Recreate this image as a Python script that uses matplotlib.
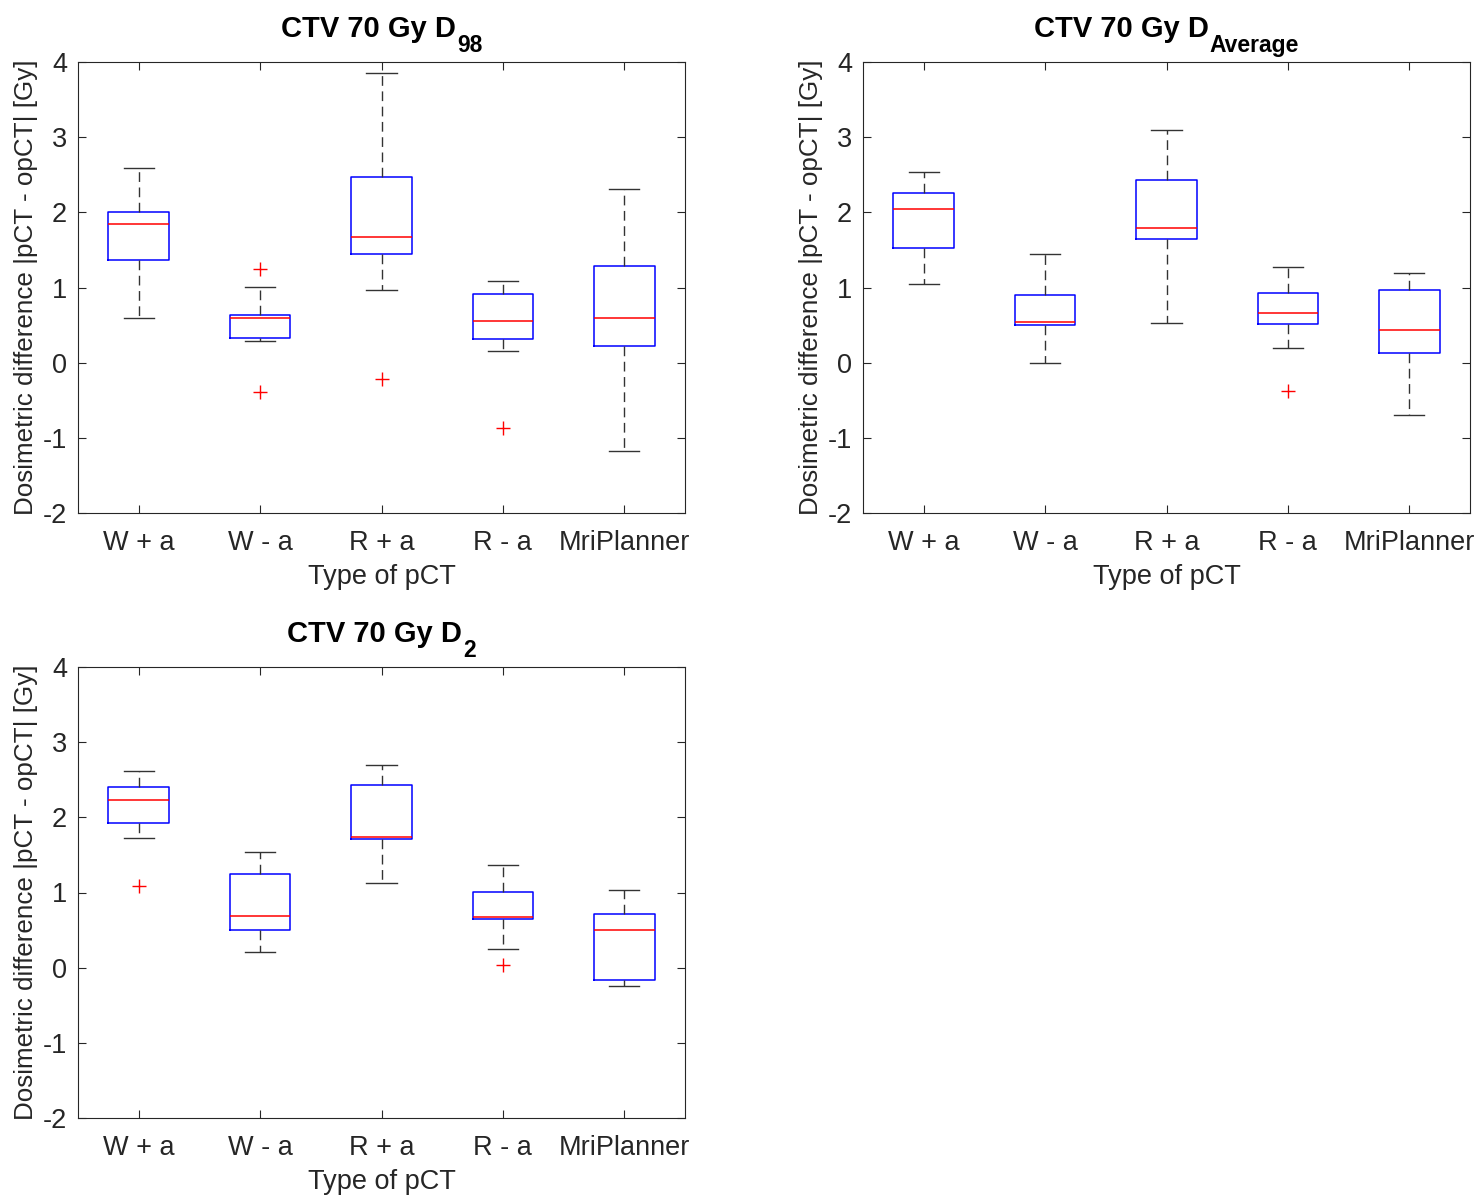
import matplotlib
matplotlib.use("Agg")
import matplotlib.pyplot as plt
from matplotlib.transforms import offset_copy

plt.rcParams['font.family'] = ['Liberation Sans', 'DejaVu Sans']
plt.rcParams['axes.unicode_minus'] = False

categories = ["W + a", "W - a", "R + a", "R - a", "MriPlanner"]
yticks = [-2, -1, 0, 1, 2, 3, 4]

# D98: (whislo, q1, med, q3, whishi), fliers
d98_whislo = [0.59, 0.29, 0.97, 0.15, -1.18]
d98_q1 = [1.36, 0.33, 1.44, 0.31, 0.22]
d98_med = [1.84, 0.60, 1.67, 0.55, 0.59]
d98_q3 = [2.00, 0.64, 2.47, 0.92, 1.29]
d98_whishi = [2.59, 1.01, 3.85, 1.08, 2.31]
d98_fliers = [[], [1.25, -0.39], [-0.22], [-0.87], []]

# DAverage
dav_whislo = [1.04, 0.00, 0.53, 0.19, -0.70]
dav_q1 = [1.53, 0.50, 1.65, 0.51, 0.13]
dav_med = [2.04, 0.54, 1.79, 0.66, 0.43]
dav_q3 = [2.26, 0.90, 2.43, 0.93, 0.97]
dav_whishi = [2.53, 1.45, 3.09, 1.27, 1.19]
dav_fliers = [[], [], [], [-0.38], []]

# D2
d2_whislo = [1.72, 0.21, 1.12, 0.25, -0.24]
d2_q1 = [1.93, 0.50, 1.71, 0.65, -0.16]
d2_med = [2.23, 0.69, 1.74, 0.68, 0.50]
d2_q3 = [2.41, 1.24, 2.43, 1.01, 0.72]
d2_whishi = [2.61, 1.54, 2.70, 1.36, 1.03]
d2_fliers = [[1.08], [], [], [0.03], []]

title_main = "CTV 70 Gy D"
title_subs = ["98", "Average", "2"]

panels = [
    (d98_whislo, d98_q1, d98_med, d98_q3, d98_whishi, d98_fliers,
     [78/1477, (1196-513)/1196, 607/1477, 451/1196]),
    (dav_whislo, dav_q1, dav_med, dav_q3, dav_whishi, dav_fliers,
     [863/1477, (1196-513)/1196, 607/1477, 451/1196]),
    (d2_whislo, d2_q1, d2_med, d2_q3, d2_whishi, d2_fliers,
     [78/1477, (1196-1118)/1196, 607/1477, 451/1196]),
]

fig = plt.figure(figsize=(14.77, 11.96), dpi=100)
renderer = fig.canvas.get_renderer()
axcol = '#262626'

for k, (wlo, q1, med, q3, whi, fl, rect) in enumerate(panels):
    ax = fig.add_axes(rect)
    stats = []
    for i, c in enumerate(categories):
        stats.append(dict(label=c, whislo=wlo[i], q1=q1[i], med=med[i], q3=q3[i],
                          whishi=whi[i], fliers=fl[i]))
    ax.bxp(stats, positions=range(1, 6), widths=0.5, capwidths=0.25,
           boxprops=dict(color='#0000ff', linewidth=1.1),
           medianprops=dict(color='#ff0000', linewidth=1.1),
           whiskerprops=dict(color='#333333', linewidth=1.0, linestyle=(0, (7, 4))),
           capprops=dict(color='#333333', linewidth=1.0),
           flierprops=dict(marker='+', markeredgecolor='#ff0000', markersize=10,
                           markeredgewidth=1.0, linestyle='none'))
    ax.set_xlim(0.5, 5.5)
    ax.set_ylim(-2, 4)
    ax.set_yticks(yticks)
    ax.set_yticklabels([str(t) for t in yticks])
    ax.set_xticks(range(1, 6))
    ax.set_xticklabels(categories)
    ax.tick_params(direction='in', length=6, width=0.8, top=True, right=True,
                   labelsize=19.5, colors=axcol)
    ax.tick_params(axis='x', pad=12)
    ax.tick_params(axis='y', pad=8)
    for s in ax.spines.values():
        s.set_color(axcol)
        s.set_linewidth(0.8)
    ax.set_xlabel('Type of pCT', fontsize=19.5, color=axcol, labelpad=6)
    ax.set_ylabel('Dosimetric difference |pCT - opCT| [Gy]', fontsize=18.7, color=axcol, labelpad=3)

    # title with MATLAB-like lowered subscript
    t1 = ax.text(0.5, 1.0, title_main, transform=ax.transAxes, ha='left', va='baseline',
                 fontsize=21, fontweight='bold', color='black')
    t2 = ax.text(0.5, 1.0, title_subs[k], transform=ax.transAxes, ha='left', va='baseline',
                 fontsize=16.5, fontweight='bold', color='black')
    w1 = t1.get_window_extent(renderer).width
    w2 = t2.get_window_extent(renderer).width
    gap = 1
    total = w1 + gap + w2
    t1.set_transform(offset_copy(ax.transAxes, fig=fig, x=-total/2, y=24.7, units='dots'))
    t2.set_transform(offset_copy(ax.transAxes, fig=fig, x=-total/2 + w1 + gap, y=10.3, units='dots'))

fig.savefig('out.png', dpi=100)
